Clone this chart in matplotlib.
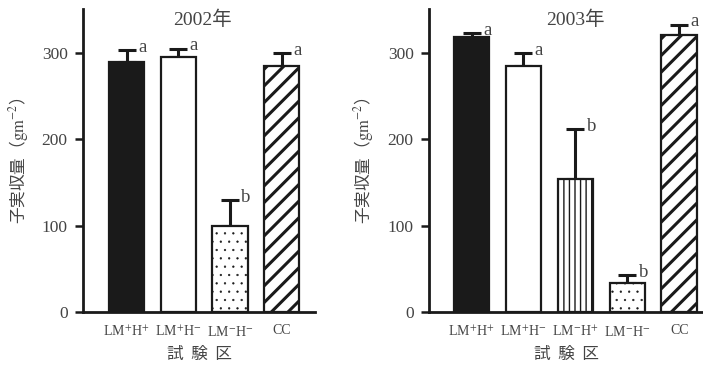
import matplotlib
matplotlib.use("Agg")
import matplotlib.pyplot as plt

plt.rcParams['mathtext.fontset'] = 'stix'

# ---- data ----
cats_2002 = [r'LM$^{+}$H$^{+}$', r'LM$^{+}$H$^{-}$', r'LM$^{-}$H$^{-}$', 'CC']
vals_2002 = [290, 295, 100, 285]
errs_2002 = [13, 10, 30, 15]
sig_2002 = ['a', 'a', 'b', 'a']

cats_2003 = [r'LM$^{+}$H$^{+}$', r'LM$^{+}$H$^{-}$', r'LM$^{-}$H$^{+}$', r'LM$^{-}$H$^{-}$', 'CC']
vals_2003 = [319, 285, 154, 34, 321]
errs_2003 = [4, 15, 58, 9, 12]
sig_2003 = ['a', 'a', 'b', 'b', 'a']

titles = ['2002年', '2003年']
ylabel = r'子実収量（$\mathrm{gm}^{-2}$）'
xlabel = '試  験  区'
yticks = [0, 100, 200, 300]

# ---- styles: (facecolor, hatch, hatch linewidth) ----
styles_2002 = [('#1a1a1a', '', 1.0), ('white', '', 1.0), ('white', '..', 0.4), ('white', '//', 2.2)]
styles_2003 = [('#1a1a1a', '', 1.0), ('white', '', 1.0), ('white', '|||', 1.0),
               ('white', '..', 0.4), ('white', '//', 2.2)]

serif = ['Liberation Serif', 'DejaVu Serif']
cjk = ['Noto Sans CJK JP', 'DejaVu Sans']
tcol = '#444444'

fig = plt.figure(figsize=(7.03, 3.69), dpi=100)
ax1 = fig.add_axes([83/703, 57/369, 232/703, 303/369])
ax2 = fig.add_axes([429/703, 57/369, 274/703, 303/369])

panels = [
    (ax1, cats_2002, vals_2002, errs_2002, sig_2002, styles_2002, titles[0], (-0.84, 3.64), -0.224, 0.517),
    (ax2, cats_2003, vals_2003, errs_2003, sig_2003, styles_2003, titles[1], (-0.82, 4.46), -0.193, 0.533),
]

for ax, cats, vals, errs, sig, sty, title, xl, ylx, tx in panels:
    x = list(range(len(cats)))
    for i in x:
        fc, h, hlw = sty[i]
        with plt.rc_context({'hatch.linewidth': hlw}):
            bars = ax.bar(i, vals[i], width=0.68, color=fc, edgecolor='#1a1a1a',
                          linewidth=1.6, hatch=h, zorder=2)
        for b in bars:
            if hasattr(b, 'set_hatch_linewidth'):
                b.set_hatch_linewidth(hlw)
    ax.errorbar(x, vals, yerr=[[0]*len(vals), errs], fmt='none',
                ecolor='#1a1a1a', elinewidth=2.2, capsize=6.5, capthick=2.2, zorder=1)
    for i in x:
        ax.text(i + 0.22, vals[i] + errs[i] - 2, sig[i], ha='left', va='baseline',
                fontsize=13.5, color=tcol, family=serif)
    ax.set_xlim(*xl)
    ax.set_ylim(0, 351)
    ax.set_xticks(x)
    ax.set_xticklabels(cats, fontsize=10, color=tcol, family=serif)
    ax.set_yticks(yticks)
    ax.set_yticklabels([str(t) for t in yticks], fontsize=12.5, color=tcol, family=serif)
    ax.tick_params(axis='x', length=0, pad=9)
    ax.tick_params(axis='y', length=6, width=1.8, pad=5, color='#1a1a1a')
    for s in ['top', 'right']:
        ax.spines[s].set_visible(False)
    for s in ['left', 'bottom']:
        ax.spines[s].set_linewidth(2.0)
        ax.spines[s].set_color('#1a1a1a')
    ax.set_ylabel(ylabel, fontsize=12, color=tcol, family=cjk)
    ax.yaxis.set_label_coords(ylx, 0.5)
    ax.set_xlabel(xlabel, fontsize=12, color=tcol, family=cjk, labelpad=5)
    ax.text(tx, 0.964, title, transform=ax.transAxes, ha='center', va='center',
            fontsize=14, color=tcol, family=['Liberation Serif', 'Noto Sans CJK JP'])
    ax.set_facecolor('none')

fig.savefig('out.png', dpi=100)
